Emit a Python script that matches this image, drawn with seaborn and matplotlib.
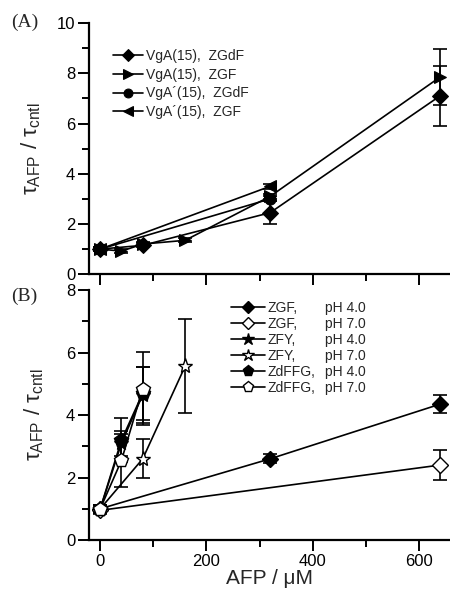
import matplotlib
matplotlib.use("Agg")
import matplotlib.pyplot as plt
import seaborn as sns
import numpy as np
from matplotlib.ticker import MultipleLocator

sns.set_theme(style="ticks")
plt.rcParams['font.family'] = ['Liberation Sans', 'DejaVu Sans']
plt.rcParams['mathtext.fontset'] = 'custom'
plt.rcParams['mathtext.rm'] = 'Liberation Sans'
plt.rcParams['mathtext.it'] = 'Liberation Sans:italic'

# ---- Panel A data ----
a_labels = ["VgA(15),  ZGdF", "VgA(15),  ZGF", "VgA\u00b4(15),  ZGdF", "VgA\u00b4(15),  ZGF"]
a_x = [[0, 80, 320, 640], [0, 40, 80, 160, 320, 640], [0, 320], [0, 320]]
a_y = [[1.0, 1.15, 2.45, 7.1], [1.0, 0.92, 1.2, 1.35, 3.1, 7.85], [1.0, 3.0], [1.0, 3.5]]
a_err = [[0.08, 0.08, 0.45, 1.2], [0.08, 0.08, 0.08, 0.08, 0.1, 1.1], [0.08, 0.1], [0.08, 0.1]]
a_markers = ["D", ">", "o", "<"]

# ---- Panel B data ----
b_names = ["ZGF,", "ZGF,", "ZFY,", "ZFY,", "ZdFFG,", "ZdFFG,"]
b_ph = ["pH 4.0", "pH 7.0", "pH 4.0", "pH 7.0", "pH 4.0", "pH 7.0"]
b_x = [[0, 320, 640], [0, 640], [0, 40, 80], [0, 80, 160], [0, 40, 80], [0, 40, 80]]
b_y = [[1.0, 2.6, 4.35], [0.95, 2.4], [1.0, 3.1, 4.65], [1.0, 2.6, 5.57],
       [1.0, 3.2, 4.7], [1.0, 2.55, 4.85]]
b_err = [[0.12, 0.15, 0.28], [0.12, 0.48], [0.12, 0.4, 0.9], [0.12, 0.63, 1.5],
         [0.12, 0.7, 0.85], [0.12, 0.85, 1.17]]
b_markers = ["D", "D", "*", "*", "p", "p"]
b_filled = [True, False, True, False, True, False]

fig = plt.figure(figsize=(4.5, 5.91), dpi=100)
axA = fig.add_axes([0.198, 0.536, 0.80, 0.425])
axB = fig.add_axes([0.198, 0.0863, 0.80, 0.4227])

def style_axis(ax, ymax):
    sns.despine(ax=ax)
    ax.set_xlim(-21, 657)
    ax.set_ylim(0, ymax)
    ax.xaxis.set_major_locator(MultipleLocator(200))
    ax.xaxis.set_minor_locator(MultipleLocator(100))
    ax.yaxis.set_major_locator(MultipleLocator(2))
    ax.yaxis.set_minor_locator(MultipleLocator(1))
    for s in ['left', 'bottom']:
        ax.spines[s].set_linewidth(1.6)
        ax.spines[s].set_color('black')
    ax.tick_params(which='major', direction='out', length=8, width=1.4, labelsize=12,
                   colors='black', pad=2)
    ax.tick_params(which='minor', direction='out', length=5, width=1.4, colors='black')
    ax.set_facecolor('white')

ms_map = {"D": 8, ">": 9, "<": 9, "o": 8, "*": 11, "p": 10}

for lab, xs, ys, es, m in zip(a_labels, a_x, a_y, a_err, a_markers):
    axA.errorbar(xs, ys, yerr=es, fmt='none', ecolor='black', elinewidth=1.2, capsize=5, capthick=1.2, zorder=2)
    sns.lineplot(x=xs, y=ys, ax=axA, color='black', marker=m, markersize=ms_map[m],
                 markerfacecolor='black', markeredgecolor='black', linewidth=1.2,
                 label=lab, sort=False, zorder=3)

for lab, xs, ys, es, m, f in zip(b_names, b_x, b_y, b_err, b_markers, b_filled):
    axB.errorbar(xs, ys, yerr=es, fmt='none', ecolor='black', elinewidth=1.2, capsize=5, capthick=1.2, zorder=2)
    sns.lineplot(x=xs, y=ys, ax=axB, color='black', marker=m, markersize=ms_map[m],
                 markerfacecolor='black' if f else 'white', markeredgecolor='black',
                 markeredgewidth=1.0, linewidth=1.2, label=lab, sort=False, zorder=3)

style_axis(axA, 10)
style_axis(axB, 8)
axA.set_xticklabels([])
axA.set_xlabel("")
axB.set_xlabel("AFP / \u03bcM", fontsize=15, labelpad=0)

ylab = r"$\mathrm{τ_{AFP}}$ / $\mathrm{τ_{cntl}}$"
axA.set_ylabel(ylab, fontsize=16, labelpad=10)
axB.set_ylabel(ylab, fontsize=16, labelpad=14)

legA = axA.legend(loc='upper left', bbox_to_anchor=(0.05, 0.92), frameon=False, fontsize=10,
                  handlelength=2.2, handletextpad=0.2, labelspacing=0.35, borderaxespad=0,
                  markerscale=0.8)
legB = axB.legend(loc='upper left', bbox_to_anchor=(0.38, 0.98), frameon=False, fontsize=10,
                  handlelength=2.4, handletextpad=0.2, labelspacing=0.15, borderaxespad=0,
                  markerscale=0.8)

fig.text(0.025, 0.962, "(A)", fontsize=14, family='Liberation Serif', va='center')
fig.text(0.025, 0.498, "(B)", fontsize=14, family='Liberation Serif', va='center')

# add aligned pH column next to legend B entries
fig.canvas.draw()
renderer = fig.canvas.get_renderer()
texts = legB.get_texts()
right = max(t.get_window_extent(renderer).x1 for t in texts)
inv = fig.transFigure.inverted()
for t, ph in zip(texts, b_ph):
    bb = t.get_window_extent(renderer)
    x, y = inv.transform((right + 10, (bb.y0 + bb.y1) / 2))
    fig.text(x, y, ph, fontsize=10, va='center', ha='left')

fig.savefig("out.png", dpi=100, facecolor='white')
